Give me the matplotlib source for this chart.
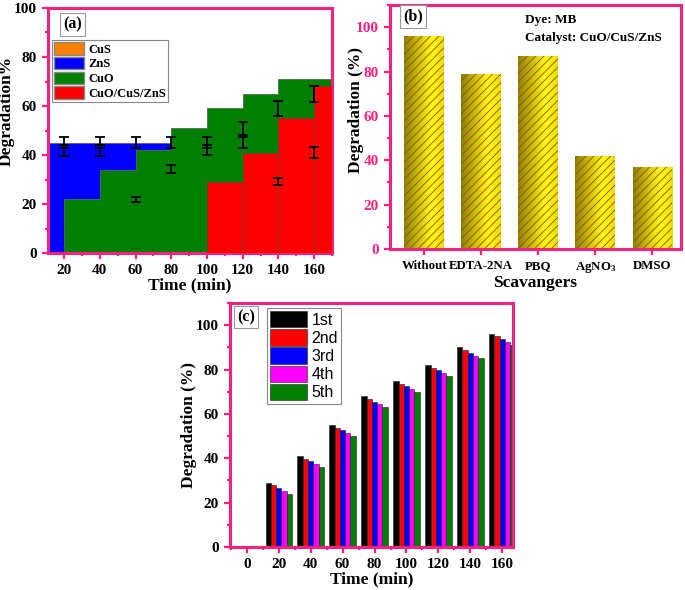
import numpy as np
import matplotlib
matplotlib.use('Agg')
import matplotlib.pyplot as plt
from matplotlib.patches import Patch
from matplotlib.ticker import MultipleLocator
from matplotlib.colors import LinearSegmentedColormap

plt.rcParams['font.family'] = ['Liberation Serif', 'DejaVu Serif']
plt.rcParams['font.weight'] = 'bold'
plt.rcParams['axes.labelweight'] = 'bold'
plt.rcParams['mathtext.default'] = 'regular'
plt.rcParams['hatch.linewidth'] = 0.6

pink = '#f5217f'

# ---- panel (a): step areas
zns_x = [11, 20, 40, 60, 80, 100, 120, 140, 160]
zns_y = [45, 45, 45, 45, 45, 45, 45, 45, 45]
cuo_x = [20, 40, 60, 80, 100, 120, 140, 160]
cuo_y = [22, 34, 42, 51, 59, 65, 71, 71]
comp_x = [100, 120, 140, 160]
comp_y = [29, 41, 55, 68]

# error bars (two sets)
err_x = [20, 40, 60, 80, 100, 120, 140, 160]
err1_y = [43.5, 43.5, 45.2, 45.2, 43.7, 50.9, 59.1, 65.0]
err1_e = [4.0, 4.0, 2.2, 2.2, 3.8, 2.7, 3.1, 3.3]
err2_y = [43.6, 43.6, 22.0, 34.2, 43.6, 45.0, 29.2, 41.1]
err2_e = [0.6, 0.6, 1.0, 1.7, 0.6, 2.3, 1.6, 2.3]

# ---- panel (b): scavengers
scav_labels = ['Without', 'EDTA-2NA', 'PBQ', 'AgNO$_3$', 'DMSO']
scav_vals = [96, 79, 87, 42, 37]

# ---- panel (c): recycling runs
times = [20, 40, 60, 80, 100, 120, 140, 160]
run_names = ['1st', '2nd', '3rd', '4th', '5th']
run_colors = ['#000000', '#ff0000', '#0000ff', '#ff00ff', '#007f00']
runs = [
    [29.0, 41.0, 55.0, 68.0, 75.0, 82.0, 90.0, 96.0],
    [27.8, 39.8, 53.8, 66.7, 73.6, 80.8, 88.7, 94.9],
    [26.6, 38.6, 52.6, 65.5, 72.4, 79.6, 87.5, 93.8],
    [25.4, 37.4, 51.3, 64.3, 71.1, 78.4, 86.3, 92.3],
    [24.1, 36.2, 50.0, 63.0, 69.8, 77.0, 85.0, 91.0],
]


def style_axes(ax, ylab_color='black'):
    for s in ax.spines.values():
        s.set_color(pink)
        s.set_linewidth(2.2)
    ax.tick_params(which='both', direction='out', color=pink, width=1.6)
    ax.tick_params(which='major', length=4.5, labelsize=11)
    ax.tick_params(which='minor', length=2.5)
    ax.tick_params(axis='y', labelcolor=ylab_color)
    for lab in ax.get_xticklabels() + ax.get_yticklabels():
        lab.set_fontweight('bold')


def tag(ax, text, x, y):
    ax.text(x, y, text, transform=ax.transAxes, fontsize=11.5, fontweight='bold',
            va='top', ha='left',
            bbox=dict(boxstyle='square,pad=0.2', fc='white', ec='#999999', lw=0.8))


fig = plt.figure(figsize=(6.85, 5.9), dpi=100)
W, H = 685, 590


def add_ax(l, r, t, b):
    return fig.add_axes([l / W, 1 - b / H, (r - l) / W, (b - t) / H])


# ================= (a)
ax1 = add_ax(48, 332, 8, 253)
xlim_a = (11, 170)
ax1.fill_between(zns_x + [xlim_a[1]], zns_y + [zns_y[-1]], step='post',
                 color='#0000ff', edgecolor='#505070', lw=0.5, zorder=1)
ax1.fill_between(cuo_x + [xlim_a[1]], cuo_y + [cuo_y[-1]], step='post',
                 color='#007f00', edgecolor='#4f704f', lw=0.6, zorder=2)
ax1.bar(comp_x, comp_y, width=20, align='edge', color='#ff0000',
        edgecolor='#704040', lw=0.6, zorder=3)
ax1.errorbar(err_x, err1_y, yerr=err1_e, fmt='none', ecolor='black',
             elinewidth=1.3, capsize=3.5, capthick=1.3, zorder=5)
ax1.errorbar(err_x, err2_y, yerr=err2_e, fmt='none', ecolor='black',
             elinewidth=1.3, capsize=3.5, capthick=1.3, zorder=5)
ax1.set_xlim(*xlim_a)
ax1.set_ylim(0, 100)
ax1.set_xticks([20, 40, 60, 80, 100, 120, 140, 160])
ax1.xaxis.set_minor_locator(MultipleLocator(10))
ax1.yaxis.set_major_locator(MultipleLocator(20))
ax1.yaxis.set_minor_locator(MultipleLocator(10))
ax1.set_xlabel('Time (min)', fontsize=12.5, labelpad=0)
ax1.set_ylabel('Degradation%', fontsize=12.5)
ax1.yaxis.set_label_coords(-0.118, 0.58)
style_axes(ax1)
tag(ax1, '(a)', 0.053, 0.965)
handles = [Patch(fc='#ff8000', ec='#888888'), Patch(fc='#0000ff', ec='#888888'),
           Patch(fc='#007f00', ec='#888888'), Patch(fc='#ff0000', ec='#888888')]
leg = ax1.legend(handles, ['CuS', 'ZnS', 'CuO', 'CuO/CuS/ZnS'], loc='upper left',
                 bbox_to_anchor=(0.014, 0.87), borderaxespad=0, fancybox=False,
                 edgecolor='#888888', framealpha=1, prop=dict(size=9, weight='bold'),
                 handlelength=2.4, handleheight=1.15, labelspacing=0.1,
                 handletextpad=0.3, borderpad=0.2)
leg.get_frame().set_linewidth(0.8)
leg.set_zorder(10)

# ================= (b)
ax2 = add_ax(390, 681, 5, 249)
pos = np.arange(1, len(scav_vals) + 1)
grad_cmap = LinearSegmentedColormap.from_list(
    'olive', [(0, '#8a8200'), (0.7, '#ffff10'), (1, '#e6e000')])
grad = np.linspace(0, 1, 64).reshape(1, -1)
bars = ax2.bar(pos, scav_vals, width=0.7, facecolor='none', edgecolor='#b83a30',
               hatch='////', lw=0, zorder=3)
for b in bars:
    x0, w, h = b.get_x(), b.get_width(), b.get_height()
    im = ax2.imshow(grad, extent=[x0, x0 + w, 0, h], aspect='auto',
                    cmap=grad_cmap, zorder=2)
    im.set_clip_path(b)
ax2.set_xlim(0.4, 5.5)
ax2.set_ylim(0, 110)
ax2.set_xticks(pos)
ax2.set_xticklabels(scav_labels)
ax2.yaxis.set_major_locator(MultipleLocator(20))
ax2.yaxis.set_minor_locator(MultipleLocator(10))
ax2.set_xlabel('Scavangers', fontsize=12.5, labelpad=0)
ax2.set_ylabel('Degradation (%)', fontsize=12.5)
ax2.yaxis.set_label_coords(-0.088, 0.57)
style_axes(ax2, ylab_color=pink)
ax2.tick_params(axis='x', labelsize=9.3)
tag(ax2, '(b)', 0.045, 0.985)
ax2.text(0.464, 0.965, 'Dye: MB', transform=ax2.transAxes, fontsize=9.5,
         fontweight='bold', va='top')
ax2.text(0.464, 0.89, 'Catalyst: CuO/CuS/ZnS', transform=ax2.transAxes,
         fontsize=9.5, fontweight='bold', va='top')

# ================= (c)
ax3 = add_ax(230, 513, 303, 547)
bw = 3.3
offsets = [-2, -1, 0, 1, 2]
for i in range(len(runs)):
    ax3.bar(np.array(times) + offsets[i] * bw, runs[i], width=bw,
            color=run_colors[i], edgecolor='#202020', lw=0.4,
            label=run_names[i], zorder=2)
ax3.set_xlim(-10.5, 166.7)
ax3.set_ylim(0, 110)
ax3.set_xticks([0, 20, 40, 60, 80, 100, 120, 140, 160])
ax3.xaxis.set_minor_locator(MultipleLocator(10))
ax3.yaxis.set_major_locator(MultipleLocator(20))
ax3.yaxis.set_minor_locator(MultipleLocator(10))
ax3.set_xlabel('Time (min)', fontsize=12.5, labelpad=0)
ax3.set_ylabel('Degradation (%)', fontsize=12.5)
ax3.yaxis.set_label_coords(-0.118, 0.5)
style_axes(ax3)
tag(ax3, '(c)', 0.025, 0.975)
leg3 = ax3.legend(loc='upper left', bbox_to_anchor=(0.13, 0.98), borderaxespad=0,
                  fancybox=False, edgecolor='#888888', framealpha=1,
                  prop=dict(family='Liberation Sans', size=11.5, weight='normal'),
                  handlelength=2.3, handleheight=1.2, labelspacing=0.1,
                  handletextpad=0.3, borderpad=0.2)
leg3.get_frame().set_linewidth(0.8)

fig.savefig('out.png', dpi=100)
